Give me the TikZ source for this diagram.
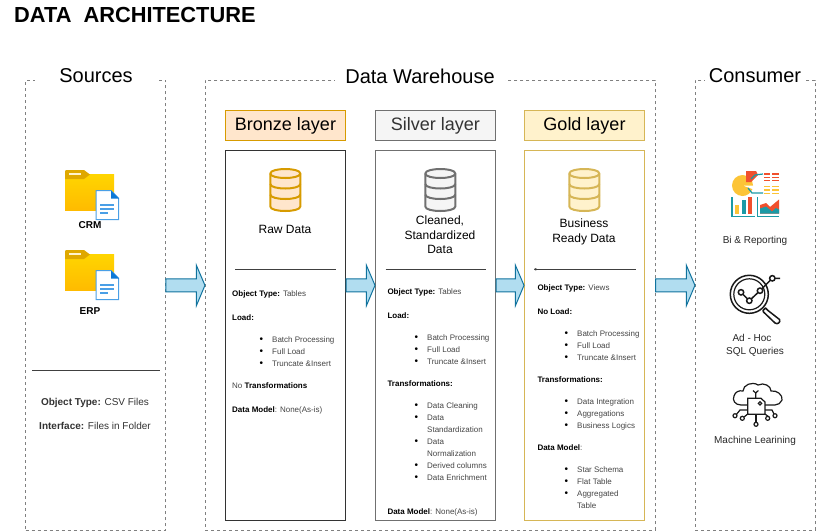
\documentclass[tikz,border=0pt]{standalone}
\usepackage{fontspec}
\setmainfont{Liberation Sans}
\usetikzlibrary{calc,arrows.meta}

\definecolor{bronzefill}{HTML}{FFE6CC}
\definecolor{bronzeline}{HTML}{D79B00}
\definecolor{silverfill}{HTML}{F5F5F5}
\definecolor{silverline}{HTML}{707070}
\definecolor{goldfill}{HTML}{FFF2CC}
\definecolor{goldline}{HTML}{D6B656}
\definecolor{arrowfill}{HTML}{B1DDF0}
\definecolor{arrowline}{HTML}{10739E}
\definecolor{plaintext}{HTML}{444444}
\definecolor{chartteal}{HTML}{1B9AA6}
\definecolor{chartred}{HTML}{F0502D}
\definecolor{chartyellow}{HTML}{FCC437}
\definecolor{folderlight}{HTML}{FFD500}
\definecolor{folderdeep}{HTML}{FFBB00}
\definecolor{foldertab}{HTML}{DFA800}
\definecolor{docline}{HTML}{4A9FE6}
\definecolor{doccorner}{HTML}{0C78D8}

\tikzset{
  frame/.style={draw=black!50,dash pattern=on 3pt off 3pt,line width=.7pt,inner sep=0pt},
  frametitle/.style={fill=white,inner sep=0pt,minimum height=20pt,font=\fontsize{20}{24}\selectfont},
  layerbox/.style={draw,line width=1pt,minimum width=120pt,minimum height=30pt,inner sep=0pt,text height=13.5pt,text depth=3.5pt,font=\fontsize{18}{22}\selectfont},
  layerpanel/.style={draw,line width=1pt,minimum width=120pt,minimum height=370pt,inner sep=0pt},
  flowarrow/.style={draw=arrowline,fill=arrowfill,line width=1pt,line join=miter},
  rulerline/.style={draw=black!75,line width=.8pt},
  info/.style={anchor=base west,yshift=-3pt,inner sep=0pt,text=plaintext,font=\fontsize{8}{10}\selectfont},
  item/.style={info,execute at begin node={\llap{\textcolor{black}{\fontsize{10}{10}\selectfont\textbullet}\hspace{9.2pt}}}},
  cont/.style={info},
  caption/.style={anchor=base,yshift=-4pt,inner sep=0pt,font=\fontsize{12}{14}\selectfont},
  smallcaption/.style={anchor=base,yshift=-3.5pt,inner sep=0pt,font=\fontsize{10}{12}\selectfont},
  dbcyl/.pic={
    \path[pic actions] (-15,-16.5) -- (-15,16.5) .. controls (-15,22.5) and (15,22.5) .. (15,16.5)
      -- (15,-16.5) .. controls (15,-22.5) and (-15,-22.5) .. (-15,-16.5) -- cycle;
    \path[pic actions,fill=none] (-15,-16.5) .. controls (-15,-10.5) and (15,-10.5) .. (15,-16.5);
    \path[pic actions,fill=none] (-15,-6) .. controls (-15,0) and (15,0) .. (15,-6);
    \path[pic actions,fill=none] (-15,4.5) .. controls (-15,10.5) and (15,10.5) .. (15,4.5);
  },
  folder/.pic={
    \fill[top color=folderlight,bottom color=folderdeep] (0,4) rectangle (49,40);
    \fill[foldertab] (1,0) -- (19,0) -- (25,4.5) -- (19,9) -- (0,9) -- (0,1) -- cycle;
    \fill[goldfill] (4,2.5) rectangle (16,4.5);
    \draw[draw=docline,fill=white,line width=1pt] (31,20.5) -- (46,20.5) -- (53.5,28) -- (53.5,49.5) -- (31,49.5) -- cycle;
    \fill[doccorner] (46,20.5) -- (54,28.5) -- (46,28.5) -- cycle;
    \foreach \ya/\xb in {35/49,39/49,43/43}
      \draw[docline,line width=1.3pt] (35,\ya) -- (\xb,\ya);
  }
}

\newcommand{\flowlink}[2]{%
  \coordinate (from) at (#1.east |- flowline);
  \coordinate (to) at (#2.west |- flowline);
  \draw[flowarrow] ($(from)+(0,-6.5)$) -- ($(to)+(-8.7,-6.5)$) -- ($(to)+(-8.7,-20.3)$) -- (to)
    -- ($(to)+(-8.7,20.7)$) -- ($(to)+(-8.7,6.5)$) -- ($(from)+(0,6.5)$) -- cycle;
}

\begin{document}
\begin{tikzpicture}[x=1pt,y=-1pt]
  \useasboundingbox (0,0) rectangle (816,531);

  \node[anchor=base west,inner sep=0pt,font=\fontsize{21.8}{26}\bfseries\selectfont] (heading) at (14,22) {DATA\ \ ARCHITECTURE};

  \node[frame,minimum width=140pt,minimum height=450pt] (srcframe) at (95.5,305.4) {};
  \node[frame,minimum width=450pt,minimum height=450pt] (whframe) at (430.3,305.4) {};
  \node[frame,minimum width=120pt,minimum height=450pt] (conframe) at (755.3,305.4) {};

  \node[frametitle,minimum width=122pt] (srctitle) at (96,76) {Sources};
  \node[frametitle,minimum width=170pt] (whtitle) at (420,76) {Data Warehouse};
  \node[frametitle,minimum width=100pt] (contitle) at (755,76) {Consumer};

  \node[layerbox,draw=bronzeline,fill=bronzefill] (bronzehead) at (285.5,125.5) {Bronze layer};
  \node[layerbox,draw=silverline,fill=silverfill,text=black!80] (silverhead) at (435.5,125.5) {Silver layer};
  \node[layerbox,draw=goldline,fill=goldfill] (goldhead) at (584.5,125.5) {Gold layer};

  \node[layerpanel,draw=black!80] (bronzebox) at (285.5,335.5) {};
  \node[layerpanel,draw=silverline] (silverbox) at (435.5,335.5) {};
  \node[layerpanel,draw=goldline] (goldbox) at (584.5,335.5) {};

  \coordinate (flowline) at (0,285.3);
  \flowlink{srcframe}{whframe}
  \flowlink{bronzebox}{silverbox}
  \flowlink{silverbox}{goldbox}
  \flowlink{whframe}{conframe}

  \pic at (65,170) {folder};
  \pic at (65,250) {folder};
  \begin{scope}[every node/.style={anchor=base,inner sep=0pt,font=\fontsize{10}{12}\bfseries\selectfont}]
    \node (crm) at (90,228.5) {CRM};
    \node (erp) at (90,314.3) {ERP};
  \end{scope}

  \coordinate (srcruleA) at (32,370.3);
  \coordinate (srcruleB) at (160,370.3);
  \draw[rulerline] (srcruleA) -- (srcruleB);
  \begin{scope}[every node/.style={smallcaption,text=black!80}]
    \node (srcobject) at (95,402) {\textbf{Object Type:} CSV Files};
    \node (srcinterface) at (95,426) {\textbf{Interface:} Files in Folder};
  \end{scope}

  \pic[draw=bronzeline,fill=bronzefill,line width=2pt] at (285.3,190) {dbcyl};
  \pic[draw=silverline,fill=silverfill,line width=2pt] at (440.3,190) {dbcyl};
  \pic[draw=goldline,fill=goldfill,line width=2pt] at (584.3,190) {dbcyl};

  \begin{scope}[every node/.style={caption}]
    \node (rawdata) at (285,229.5) {Raw Data};
    \node (cleanA) at (440,220) {Cleaned,};
    \node (cleanB) at (440,235) {Standardized};
    \node (cleanC) at (440,249.5) {Data};
    \node (readyA) at (584,223) {Business};
    \node (readyB) at (584,238) {Ready Data};
  \end{scope}

  \coordinate (brA) at (235,269.3);
  \coordinate (brB) at (335.7,269.3);
  \coordinate (siA) at (385.7,269.3);
  \coordinate (siB) at (485.7,269.3);
  \coordinate (goA) at (534,269.3);
  \coordinate (goB) at (635.7,269.3);
  \draw[rulerline] (brA) -- (brB);
  \draw[rulerline] (siA) -- (siB);
  \draw[rulerline,{To[length=2.5pt,width=2.5pt]}-] (goA) -- (goB);

  \begin{scope}[every node/.style={info}]
    \node (brobject) at (232,293) {\textcolor{black}{\textbf{Object Type:}} Tables};
    \node (brload) at (232,317) {\textcolor{black}{\textbf{Load:}}};
    \node (brtrans) at (232,385) {No \textcolor{black}{\textbf{Transformations}}};
    \node (brmodel) at (232,409) {\textcolor{black}{\textbf{Data Model}}: None(As-is)};
    \node (siobject) at (387.3,291) {\textcolor{black}{\textbf{Object Type:}} Tables};
    \node (siload) at (387.3,315) {\textcolor{black}{\textbf{Load:}}};
    \node (sitrans) at (387.3,383) {\textcolor{black}{\textbf{Transformations:}}};
    \node (simodel) at (387.3,511) {\textcolor{black}{\textbf{Data Model}}: None(As-is)};
    \node (goobject) at (537.3,287) {\textcolor{black}{\textbf{Object Type:}} Views};
    \node (goload) at (537.3,311) {\textcolor{black}{\textbf{No Load:}}};
    \node (gotrans) at (537.3,379) {\textcolor{black}{\textbf{Transformations:}}};
    \node (gomodel) at (537.3,447) {\textcolor{black}{\textbf{Data Model}}:};
  \end{scope}

  \foreach \id/\row/\txt in {a/339/Batch Processing,b/351/Full Load,c/363/Truncate \&Insert}
    \node[item] (bri\id) at (272,\row) {\txt};
  \foreach \id/\row/\txt in {a/337/Batch Processing,b/349/Full Load,c/361/Truncate \&Insert,
      d/405/Data Cleaning,e/417/Data,g/441/Data,i/465/Derived columns,j/477/Data Enrichment}
    \node[item] (sii\id) at (427,\row) {\txt};
  \node[cont] (siif) at (427,429) {Standardization};
  \node[cont] (siih) at (427,453) {Normalization};
  \foreach \id/\row/\txt in {a/333/Batch Processing,b/345/Full Load,c/357/Truncate \&Insert,
      d/401/Data Integration,e/413/Aggregations,f/425/Business Logics,
      g/469/Star Schema,h/481/Flat Table,i/493/Aggregated}
    \node[item] (goi\id) at (577,\row) {\txt};
  \node[cont] (goij) at (577,505) {Table};

  \begin{scope}[every node/.style={smallcaption,text=black!85}]
    \node (bireport) at (755,240) {Bi \& Reporting};
    \node (adhoc) at (752,338) {Ad - Hoc};
    \node (sqlquery) at (755,350.7) {SQL Queries};
    \node (machine) at (755,440) {Machine Learining};
  \end{scope}

  % reporting icon
  \fill[chartyellow] (753,185.5) arc[start angle=0,end angle=-340,radius=10.5] -- (742.5,185.5) -- cycle;
  \fill[chartred] (746,171) -- (756,171) -- (758,175) -- (751,182) -- (746,182) -- cycle;
  \draw[chartteal,line width=1.2pt] (751,179) -- (755,175) -- (763,174);
  \draw[chartteal,line width=1.2pt] (748,188) -- (752,193) -- (763,193);
  \foreach \row in {174,177.3,180.7} {
    \draw[chartred,line width=1.3pt] (764,\row) -- (770,\row);
    \draw[chartred,line width=1.3pt] (772,\row) -- (779,\row);
  }
  \foreach \row in {186.7,190,193.3} {
    \draw[chartyellow,line width=1.3pt] (764,\row) -- (770,\row);
    \draw[chartyellow,line width=1.3pt] (772,\row) -- (779,\row);
  }
  \draw[chartteal,line width=1.2pt] (732,197) -- (732,216.5) -- (755,216.5);
  \draw[chartteal,line width=1.2pt] (757.5,197) -- (757.5,216.5) -- (779,216.5);
  \fill[chartyellow] (735,205) rectangle (739,213.5);
  \fill[chartteal] (741.7,200) rectangle (745.7,213.5);
  \fill[chartred] (747.7,197.3) rectangle (751.7,213.5);
  \fill[chartred] (760,213.5) -- (760,205) -- (766,203) -- (770,207) -- (779,199.5) -- (779,213.5) -- cycle;
  \fill[chartteal] (760,213.5) -- (760,208.5) -- (766,206.5) -- (772,211.5) -- (776,208) -- (779,209.5) -- (779,213.5) -- cycle;

  % query icon
  \begin{scope}[black!90,line width=1.5pt]
    \draw (749.3,294.3) circle[radius=19];
    \draw[line width=1.2pt] (749.3,294.3) circle[radius=15.5];
    \draw (741,292.3) -- (749.3,300.7) -- (760,290.7) -- (772.3,278.3) -- (780,278.3);
    \foreach \cx/\cy in {741/292.3,749.3/300.7,760/290.7,772.3/278.3}
      \draw[fill=white] (\cx,\cy) circle[radius=2.7];
    \draw[fill=white,line join=round] (765.5,308) -- (768,310.5) -- (779.5,319.5) .. controls (781,322) and (777.5,325) .. (775,323) -- (763.5,312) -- (763,310.5) -- cycle;
  \end{scope}

  % learning icon
  \begin{scope}[black!90,line width=1.2pt]
    \draw (747.7,405) -- (741,405) .. controls (735,405) and (732,400) .. (734,396) .. controls (735,392) and (739,390) .. (743,391)
      .. controls (743,385) and (752,381) .. (758,385) .. controls (764,382) and (771,386) .. (771,391)
      .. controls (777,390) and (783,395) .. (782,400) .. controls (781,403) and (778,405) .. (775,405) -- (765,405);
    \draw (755.7,398.3) -- (755.7,393) -- (753,390.5);
    \draw (755.7,393) -- (758.4,390.5);
    \draw (750,398.3) -- (761,398.3) -- (765,402) -- (765,414.3) -- (747.7,414.3) -- (747.7,398.3) -- cycle;
    \draw (760,403.3) circle[radius=1.7];
    \draw (747.7,410) -- (740,410) -- (736.5,414.3);
    \draw (747.7,414) -- (744,417);
    \draw (756,414.3) -- (756,422);
    \draw (765,414) -- (769,417);
    \draw (765,410) -- (772,410) -- (774,414);
    \foreach \cx/\cy in {735/415.7,742.3/418.3,756/424.3,767.7/418.3,775/415.7}
      \draw[fill=white] (\cx,\cy) circle[radius=2];
  \end{scope}
\end{tikzpicture}
\end{document}
